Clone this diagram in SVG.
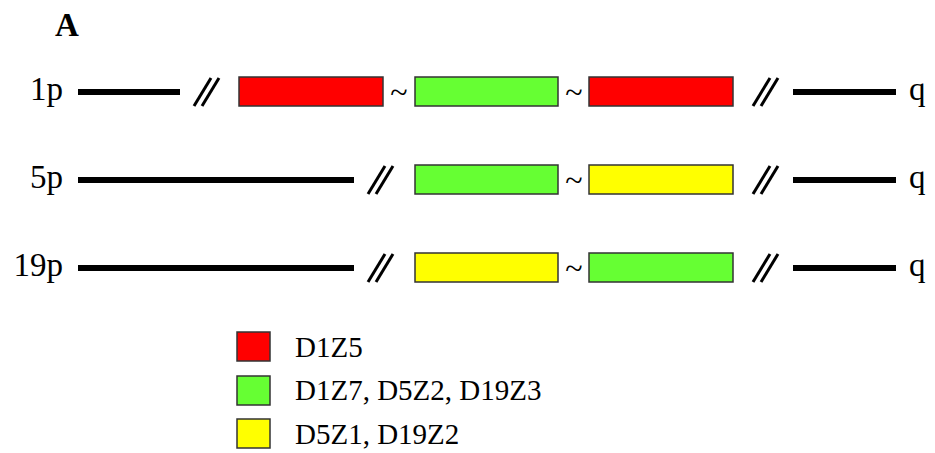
<svg xmlns="http://www.w3.org/2000/svg" width="935" height="453" viewBox="0 0 935 453">
<style>
.lbl{font-family:"Liberation Serif","Times New Roman",serif;font-size:33px;fill:#000}
.leg{font-family:"Liberation Serif","Times New Roman",serif;font-size:29px;fill:#000}
.ttl{font-family:"Liberation Serif","Times New Roman",serif;font-size:33px;font-weight:bold;fill:#000}
.arm{stroke:#000;stroke-width:6;fill:none}
.sl{stroke:#000;stroke-width:3;fill:none}
.box{stroke:#333;stroke-width:1.5}
.r{fill:#ff0000}.g{fill:#66ff33}.y{fill:#ffff00}
.tl{font-family:"Liberation Serif","Times New Roman",serif;font-size:32px;text-anchor:middle}
</style>
<rect width="935" height="453" fill="#fff"/>
<text class="ttl" x="55" y="36">A</text>
<g id="row1p">
<text class="lbl" x="63" y="100" text-anchor="end">1p</text>
<line class="arm" x1="78" y1="92" x2="180" y2="92"/>
<line class="sl" x1="194" y1="106" x2="211" y2="78"/>
<line class="sl" x1="202" y1="106" x2="219" y2="78"/>
<rect class="box r" x="239" y="77" width="144" height="29"/>
<text class="tl" x="399" y="103">~</text>
<rect class="box g" x="415" y="77" width="143" height="29"/>
<text class="tl" x="574" y="103">~</text>
<rect class="box r" x="589" y="77" width="144" height="29"/>
<line class="sl" x1="753" y1="106" x2="770" y2="78"/>
<line class="sl" x1="761" y1="106" x2="778" y2="78"/>
<line class="arm" x1="793" y1="92" x2="896" y2="92"/>
<text class="lbl" x="909" y="100">q</text>
</g>
<g id="row5p">
<text class="lbl" x="63" y="188" text-anchor="end">5p</text>
<line class="arm" x1="78" y1="180" x2="354" y2="180"/>
<line class="sl" x1="368" y1="194" x2="385" y2="166"/>
<line class="sl" x1="376" y1="194" x2="393" y2="166"/>
<rect class="box g" x="415" y="165" width="143" height="29"/>
<text class="tl" x="574" y="191">~</text>
<rect class="box y" x="589" y="165" width="144" height="29"/>
<line class="sl" x1="753" y1="194" x2="770" y2="166"/>
<line class="sl" x1="761" y1="194" x2="778" y2="166"/>
<line class="arm" x1="793" y1="180" x2="896" y2="180"/>
<text class="lbl" x="909" y="188">q</text>
</g>
<g id="row19p">
<text class="lbl" x="63" y="276" text-anchor="end">19p</text>
<line class="arm" x1="78" y1="268" x2="354" y2="268"/>
<line class="sl" x1="368" y1="282" x2="385" y2="254"/>
<line class="sl" x1="376" y1="282" x2="393" y2="254"/>
<rect class="box y" x="415" y="253" width="143" height="29"/>
<text class="tl" x="574" y="279">~</text>
<rect class="box g" x="589" y="253" width="144" height="29"/>
<line class="sl" x1="753" y1="282" x2="770" y2="254"/>
<line class="sl" x1="761" y1="282" x2="778" y2="254"/>
<line class="arm" x1="793" y1="268" x2="896" y2="268"/>
<text class="lbl" x="909" y="276">q</text>
</g>
<g id="legend">
<rect class="box r" x="237" y="332" width="33" height="29"/>
<text class="leg" x="295" y="357">D1Z5</text>
<rect class="box g" x="237" y="376" width="33" height="29"/>
<text class="leg" x="295" y="400">D1Z7, D5Z2, D19Z3</text>
<rect class="box y" x="237" y="419" width="33" height="29"/>
<text class="leg" x="295" y="444">D5Z1, D19Z2</text>
</g>
<g id="connectors"></g>
</svg>
